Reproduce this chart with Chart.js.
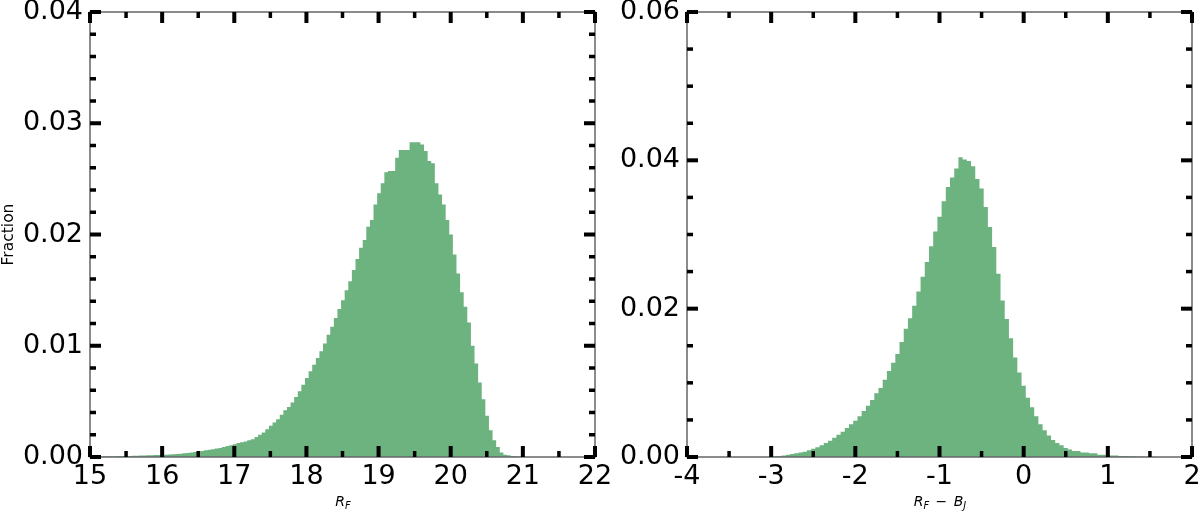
<!DOCTYPE html>
<html>
<head>
<meta charset="utf-8">
<script src="https://cdn.jsdelivr.net/npm/chart.js@4.4.0/dist/chart.umd.min.js"></script>
<style>
  html, body { margin: 0; padding: 0; background: #fff; }
  #wrap { position: relative; width: 1200px; height: 514px; overflow: hidden; font-family: 'DejaVu Sans', sans-serif; }
  canvas { position: absolute; top: 0; }
  #histL { left: 0; }
  #histR { left: 560px; }
  .xt { position: absolute; top: 493px; font-size: 14px; font-style: italic; line-height: 16px;
        transform: translateX(-50%); white-space: nowrap; color: #000; }
  .xt sub { font-size: 70%; vertical-align: -0.3em; line-height: 0; }
  .xt .op { font-style: normal; padding: 0 2px; }
</style>
</head>
<body>
<div id="wrap">
  <canvas id="histL" width="640" height="514"></canvas>
  <canvas id="histR" width="640" height="514"></canvas>
  <div class="xt" style="left:343px">R<sub>F</sub></div>
  <div class="xt" style="left:940px">R<sub>F</sub><span class="op"> − </span>B<sub>J</sub></div>
</div>
<script>
// histogram bins are 0.05 wide; each list holds the fraction per bin
const binW = 0.05;

// left panel: R_F magnitude
const startL = 15.03;
const fracL = [
  0.00004, 0.00005, 0.00005, 0.00006, 0.00006, 0.00007, 0.00007, 0.00008, 0.00009, 0.0001,
  0.0001, 0.00011, 0.00012, 0.00013, 0.00014, 0.00015, 0.00016, 0.00017, 0.00018, 0.0002,
  0.00021, 0.00023, 0.00025, 0.00028, 0.0003, 0.00033, 0.00036, 0.0004, 0.00044, 0.00049,
  0.00055, 0.0006, 0.00065, 0.0007, 0.00076, 0.00082, 0.0009, 0.00098, 0.00106, 0.00115,
  0.00125, 0.00133, 0.0014, 0.0015, 0.0016, 0.0018, 0.002, 0.0022, 0.0025, 0.0028,
  0.0031, 0.0034, 0.0038, 0.0042, 0.0045, 0.0049, 0.0054, 0.0059, 0.0065, 0.0071,
  0.0077, 0.0083, 0.0089, 0.0095, 0.0102, 0.0110, 0.0117, 0.0125, 0.0133, 0.0141,
  0.0150, 0.0158, 0.0168, 0.0178, 0.0188, 0.0195, 0.0207, 0.0213, 0.0227, 0.0237,
  0.0246, 0.0256, 0.0257, 0.0257, 0.0269, 0.0276, 0.0276, 0.0276, 0.0283, 0.0283,
  0.0283, 0.0281, 0.0275, 0.0266, 0.0264, 0.0246, 0.0236, 0.0227, 0.0213, 0.0200,
  0.0182, 0.0165, 0.0148, 0.0135, 0.0121, 0.0100, 0.0084, 0.0067, 0.0052, 0.0037,
  0.0024, 0.0015, 0.0009, 0.0004, 0.0002, 0.00015, 0.0001, 0.00007, 0.00005, 0.00003
];

// right panel: R_F - B_J colour
const startR = -3.025;
const fracR = [
  0.00005, 0.0001, 0.00015, 0.0002, 0.0003, 0.0004, 0.0005, 0.0006, 0.0007, 0.0009,
  0.0011, 0.0013, 0.0016, 0.0019, 0.0022, 0.0026, 0.0030, 0.0034, 0.0039, 0.0044,
  0.0049, 0.0055, 0.0062, 0.0069, 0.0077, 0.0086, 0.0093, 0.0104, 0.0116, 0.0127,
  0.0139, 0.0155, 0.0173, 0.0187, 0.0204, 0.0223, 0.0243, 0.0263, 0.0284, 0.0304,
  0.0324, 0.0345, 0.0364, 0.0377, 0.0389, 0.0404, 0.0401, 0.0399, 0.0392, 0.0375,
  0.0362, 0.0337, 0.0310, 0.0283, 0.0247, 0.0211, 0.0186, 0.0160, 0.0134, 0.0114,
  0.0096, 0.0080, 0.0067, 0.0055, 0.0044, 0.0036, 0.0029, 0.0023, 0.0019, 0.0016,
  0.0012, 0.0010, 0.0008, 0.0008, 0.0006, 0.0006, 0.0005, 0.0005, 0.0003, 0.0003,
  0.00025, 0.0002, 0.0002, 0.00015, 0.00012, 0.0001, 0.0001, 0.00008, 0.00006, 0.00005,
  0.00004, 0.00003
];

// axis ranges and tick steps
const xRangeL = [15, 22], yRangeL = [0, 0.04];
const xRangeR = [-4, 2], yRangeR = [0, 0.06];
const ticksL = { xMajor: 1, xMinor: 0.5, yMajor: 0.01, yMinor: 0.002 };
const ticksR = { xMajor: 1, xMinor: 0.5, yMajor: 0.02, yMinor: 0.005 };

const green = 'rgb(108,179,128)';
const FONT = 'DejaVu Sans';
Chart.defaults.font.family = FONT;
Chart.defaults.color = '#000';

// points sit on the left bin edge; stepped 'before' holds the value across the bin
function steps(start, vals) {
  const pts = vals.map((v, i) => ({ x: start + i * binW, y: v }));
  pts.push({ x: start + vals.length * binW, y: 0 });
  return pts;
}

// gray frame + inward major/minor ticks on all four sides (matplotlib look)
const frameTicks = {
  id: 'frameTicks',
  afterDatasetsDraw(chart, args, o) {
    const { ctx, chartArea: a, scales: { x, y } } = chart;
    ctx.save();
    ctx.strokeStyle = '#666';
    ctx.lineWidth = 1.5;
    ctx.strokeRect(a.left, a.top, a.right - a.left, a.bottom - a.top);
    ctx.fillStyle = '#000';
    const isMajor = (v, step) => Math.abs(v / step - Math.round(v / step)) < 1e-6;
    const majLen = 11, minLen = 6, majW = 4, minW = 3.5;

    let n = Math.round((x.max - x.min) / o.xMinor);
    for (let i = 0; i <= n; i++) {
      const v = x.min + i * o.xMinor;
      const px = x.getPixelForValue(v);
      const big = isMajor(v, o.xMajor);
      const len = big ? majLen : minLen, w = big ? majW : minW;
      ctx.fillRect(px - w / 2, a.bottom - len, w, len);
      ctx.fillRect(px - w / 2, a.top, w, len);
    }
    n = Math.round((y.max - y.min) / o.yMinor);
    for (let i = 0; i <= n; i++) {
      const v = y.min + i * o.yMinor;
      const py = y.getPixelForValue(v);
      const big = isMajor(v, o.yMajor);
      const len = big ? majLen : minLen, w = big ? majW : minW;
      ctx.fillRect(a.left, py - w / 2, len, w);
      ctx.fillRect(a.right - len, py - w / 2, len, w);
    }
    ctx.restore();
  }
};

function makeHist(id, cfg) {
  new Chart(document.getElementById(id), {
    type: 'line',
    data: {
      datasets: [{
        data: steps(cfg.start, cfg.vals),
        stepped: 'before',
        fill: 'origin',
        backgroundColor: green,
        borderColor: green,
        borderWidth: 0,
        pointRadius: 0,
        pointHoverRadius: 0
      }]
    },
    options: {
      responsive: false,
      animation: false,
      events: [],
      layout: { padding: { top: 12, right: cfg.padRight, bottom: 0, left: 0 } },
      plugins: { legend: { display: false }, tooltip: { enabled: false }, frameTicks: cfg.ticks },
      scales: {
        x: {
          type: 'linear', min: cfg.xRange[0], max: cfg.xRange[1],
          grid: { display: false, drawTicks: false },
          border: { display: false },
          ticks: { stepSize: cfg.ticks.xMajor, padding: 4, font: { size: 27 }, color: '#000',
                   maxRotation: 0, autoSkip: false, callback: v => String(v) },
          afterFit: s => { s.height = 57; s.paddingLeft = 0; s.paddingRight = 0; }
        },
        y: {
          min: cfg.yRange[0], max: cfg.yRange[1],
          grid: { display: false, drawTicks: false },
          border: { display: false },
          ticks: { stepSize: cfg.ticks.yMajor, padding: 7, font: { size: 27 }, color: '#000',
                   callback: v => v.toFixed(2) },
          title: cfg.yTitle ? { display: true, text: cfg.yTitle, font: { size: 15.5 }, color: '#000',
                                padding: { top: 0, bottom: 0 } } : { display: false },
          afterFit: s => { s.width = cfg.yWidth; s.paddingTop = 0; s.paddingBottom = 0; }
        }
      }
    },
    plugins: [frameTicks]
  });
}

makeHist('histL', { start: startL, vals: fracL, xRange: xRangeL, yRange: yRangeL, ticks: ticksL,
                    yWidth: 90, padRight: 45, yTitle: 'Fraction' });
makeHist('histR', { start: startR, vals: fracR, xRange: xRangeR, yRange: yRangeR, ticks: ticksR,
                    yWidth: 127, padRight: 8, yTitle: null });
</script>
</body>
</html>
